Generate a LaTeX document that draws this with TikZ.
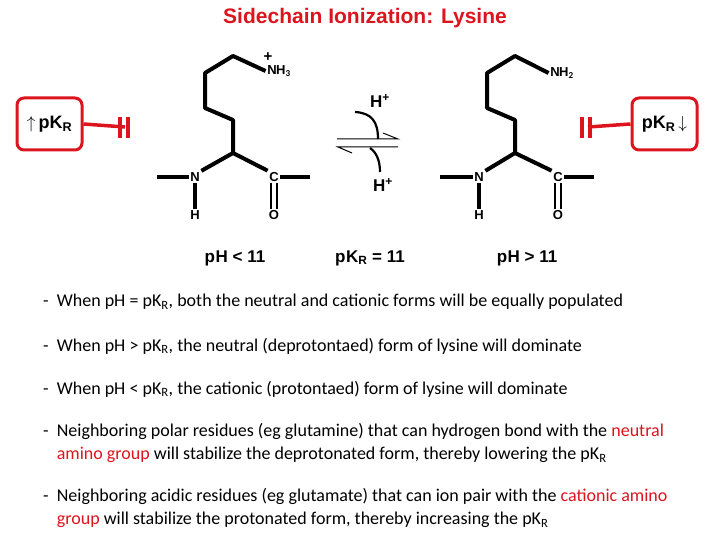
\documentclass[tikz,border=0pt]{standalone}
\usepackage{fontspec}
\setmainfont{Carlito}
\newfontfamily\arialf{Liberation Sans}
\usetikzlibrary{arrows.meta}
\definecolor{rd}{RGB}{220,20,30}
\begin{document}
\begin{tikzpicture}[x=1pt,y=-1pt,
 bond/.style={line width=4pt},
 atom/.style={font=\arialf\bfseries\fontsize{13}{14}\selectfont,inner sep=1.5pt,fill=white},
 lab/.style={font=\arialf\bfseries\fontsize{17}{20}\selectfont},
 rbox/.style={draw=rd,line width=3pt,rounded corners=7pt,minimum width=65pt,minimum height=52pt,font=\arialf\bfseries\fontsize{18}{20}\selectfont,inner sep=0pt},
 redl/.style={draw=rd,line width=3.5pt},
 txt/.style={font=\fontsize{18}{23}\selectfont,anchor=west,align=left,inner sep=0pt},
 thin/.style={line width=2.2pt}]
\useasboundingbox (0,0) rectangle (720,540);
\node[font=\arialf\bfseries\fontsize{21}{24}\selectfont,text=rd] (title) at (365,18) {Sidechain Ionization: Lysine};
% left molecule
\node[atom] (nh3) at (279,71) {N\kern-0.5ptH$_{\mathbf 3}$};
\node[atom,font=\arialf\bfseries\fontsize{15}{12}\selectfont,fill=none] (pl) at (268,57) {+};
\coordinate (a1) at (233,56); \coordinate (a2) at (205,73); \coordinate (a3) at (205,108);
\coordinate (a4) at (233,120); \coordinate (ca) at (233,153);
\node[atom] (n1) at (195,177) {N}; \node[atom] (c1) at (274,177) {C};
\node[atom] (h1) at (195,215) {H}; \node[atom] (o1) at (274,215) {O};
\coordinate (l1) at (157,177); \coordinate (r1) at (310,177);
\draw[bond,line join=round] (nh3.west) -- (a1) -- (a2) -- (a3) -- (a4) -- (ca);
\draw[bond] (ca) -- (n1.north east); \draw[bond] (ca) -- (c1.north west);
\draw[bond] (l1) -- (n1.west); \draw[bond] (c1.east) -- (r1);
\draw[bond] (n1.south) -- (h1.north);
\draw[thin] ([xshift=-3pt]c1.south) -- ([xshift=-3pt]o1.north);
\draw[thin] ([xshift=3pt]c1.south) -- ([xshift=3pt]o1.north);
% right molecule
\node[atom] (nh2) at (562,73) {N\kern-0.5ptH$_{\mathbf 2}$};
\coordinate (b1) at (515,56); \coordinate (b2) at (487,73); \coordinate (b3) at (487,108);
\coordinate (b4) at (515,120); \coordinate (cb) at (515,153);
\node[atom] (n2) at (479,177) {N}; \node[atom] (c2) at (558,177) {C};
\node[atom] (h2) at (479,215) {H}; \node[atom] (o2) at (558,215) {O};
\coordinate (l2) at (440,177); \coordinate (r2) at (594,177);
\draw[bond,line join=round] (nh2.west) -- (b1) -- (b2) -- (b3) -- (b4) -- (cb);
\draw[bond] (cb) -- (n2.north east); \draw[bond] (cb) -- (c2.north west);
\draw[bond] (l2) -- (n2.west); \draw[bond] (c2.east) -- (r2);
\draw[bond] (n2.south) -- (h2.north);
\draw[thin] ([xshift=-3pt]c2.south) -- ([xshift=-3pt]o2.north);
\draw[thin] ([xshift=3pt]c2.south) -- ([xshift=3pt]o2.north);
% equilibrium
\coordinate (e1) at (337,139); \coordinate (e2) at (398,139); \coordinate (e3) at (383,133);
\coordinate (f1) at (338,147); \coordinate (f2) at (398,147); \coordinate (f3) at (352,153);
\draw[line width=1pt] (e1) -- (e2) -- (e3);
\draw[line width=1pt] (f2) -- (f1) -- (f3);
\node[lab] (hp1) at (380,101) {H\textsuperscript{+}};
\node[lab] (hp2) at (383,185) {H\textsuperscript{+}};
\coordinate (c1a) at (355,112); \coordinate (c1b) at (378,139);
\coordinate (c2a) at (370,148); \coordinate (c2b) at (380,172);
\draw[line width=2.2pt] (c1a) .. controls (372,113) and (378,122) .. (c1b);
\draw[line width=2.2pt] (c2a) .. controls (376,152) and (380,160) .. (c2b);
% red boxes
\node[rbox] (bl) at (49.5,124) {$\uparrow$\,pK\textsubscript{R}};
\coordinate (tl) at (125,127);
\draw[redl] (bl.east) -- (tl);
\draw[redl] (120,117) -- (120,138); \draw[redl] (128,117) -- (128,138);
\node[rbox] (br) at (664.5,124) {pK\textsubscript{R}\,$\downarrow$};
\coordinate (tr) at (588,127);
\draw[redl] (br.west) -- (tr);
\draw[redl] (582,117) -- (582,138); \draw[redl] (590,117) -- (590,138);
% labels
\node[lab] (ph1) at (235,258) {p\kern0.5ptH < 11};
\node[lab] (pk) at (370,258) {p\kern0.5ptK\textsubscript{R} = 11};
\node[lab] (ph2) at (527,258) {p\kern0.5ptH > 11};
% text
\node[txt] (t1) at (43,302) {-\ \ When pH = pK\textsubscript{R}, both the neutral and cationic forms will be equally populated};
\node[txt] (t2) at (43,346) {-\ \ When pH > pK\textsubscript{R}, the neutral (deprotontaed) form of lysine will dominate};
\node[txt] (t3) at (43,389) {-\ \ When pH < pK\textsubscript{R}, the cationic (protontaed) form of lysine will dominate};
\node[txt] (t4) at (43,443) {-\ \ Neighboring polar residues (eg glutamine) that can hydrogen bond with the \textcolor{rd}{neutral}\\\phantom{-\ \ }\textcolor{rd}{amino group} will stabilize the deprotonated form, thereby lowering the pK\textsubscript{R}};
\node[txt] (t5) at (43,508) {-\ \ Neighboring acidic residues (eg glutamate) that can ion pair with the \textcolor{rd}{cationic amino}\\\phantom{-\ \ }\textcolor{rd}{group} will stabilize the protonated form, thereby increasing the pK\textsubscript{R}};
\end{tikzpicture}
\end{document}
